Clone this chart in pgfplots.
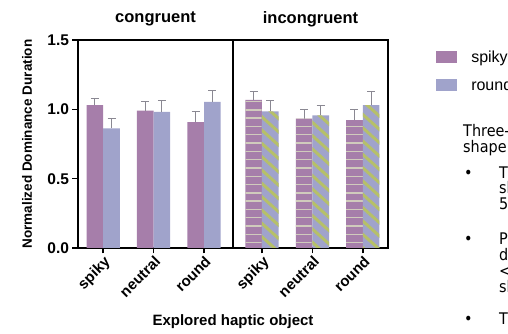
\documentclass[border=0pt]{standalone}
\usepackage{fontspec}
\setmainfont{Liberation Sans}
\newfontfamily\slidefont[FakeStretch=0.9]{DejaVu Sans}
\usepackage{pgfplots}
\pgfplotsset{compat=1.18}
\usepackage{pgfplotstable}
\usetikzlibrary{patterns.meta}
\definecolor{cpurple}{RGB}{166,126,170}
\definecolor{cblue}{RGB}{160,163,203}
\definecolor{hstripe}{RGB}{208,203,188}
\definecolor{dstripe}{RGB}{182,192,104}
\definecolor{errgray}{RGB}{138,136,146}

\pgfplotstableread{
x s serr r rerr
0 1.030 0.048 0.863 0.070
1 0.991 0.065 0.981 0.083
2 0.907 0.074 1.054 0.084
}\congruent
\pgfplotstableread{
x s serr r rerr
3.15 1.068 0.061 0.986 0.078
4.15 0.933 0.063 0.957 0.068
5.15 0.923 0.073 1.030 0.096
}\incongruent

\pgfplotsset{myerr/.style={error bars/.cd, y dir=plus, y explicit,
  error bar style={errgray, line width=1pt},
  error mark options={rotate=90, errgray, line width=1pt, mark size=4pt}}}

\begin{document}
\begin{tikzpicture}[x=1pt,y=1pt]
\begin{axis}[
  at={(78pt,86pt)}, anchor=south west,
  scale only axis, width=310pt, height=208pt,
  ybar=0pt, bar width=0.33,
  xmin=-0.5, xmax=5.65, ymin=0, ymax=1.5,
  enlargelimits=false,
  xtick={0,1,2,3.15,4.15,5.15},
  xticklabels={spiky,neutral,round,spiky,neutral,round},
  ytick={0,0.5,1,1.5},
  /pgf/number format/.cd, fixed, fixed zerofill, precision=1, assume math mode=true,
  /pgfplots/.cd,
  axis line style={line width=1.6pt, black},
  tick align=outside, xtick pos=bottom, ytick pos=left,
  major tick length=5.5pt,
  tick style={line width=1.6pt, black},
  yticklabel style={font=\bfseries\fontsize{15.5}{18}\selectfont},
  xticklabel style={font=\bfseries\fontsize{15}{18}\selectfont, rotate=45, anchor=north east, inner sep=1pt},
  ylabel={Normalized Dominance Duration},
  xlabel={Explored haptic object},
  every axis y label/.style={at={(rel axis cs:-0.1645,0.5)}, rotate=90, anchor=center, font=\bfseries\fontsize{13.5}{16}\selectfont},
  every axis x label/.style={at={(rel axis cs:0.5,-0.356)}, anchor=center, font=\bfseries\fontsize{15}{18}\selectfont},
  legend style={at={(1.155,0.96)}, anchor=north west, draw=none, fill=none,
    font=\fontsize{16}{18}\selectfont, row sep=11pt, inner sep=0pt},
  legend cell align=left,
  legend image code/.code={\fill[#1] (0pt,-6pt) rectangle (21pt,6pt); \path (33pt,0pt);},
  clip=false,
]
% congruent
\addplot[fill=cpurple, draw=none, bar shift=-0.165, myerr]
  table[x=x, y=s, y error=serr]{\congruent};
\addplot[fill=cblue, draw=none, bar shift=0.165, myerr]
  table[x=x, y=r, y error=rerr]{\congruent};
% incongruent
\addplot[fill=cpurple, draw=none, bar shift=-0.165, myerr]
  table[x=x, y=s, y error=serr]{\incongruent};
\addplot[forget plot, draw=none, bar shift=-0.165,
  pattern={Lines[angle=0, distance=8.3pt, line width=1.4pt]}, pattern color=hstripe]
  table[x=x, y=s]{\incongruent};
\addplot[fill=cblue, draw=none, bar shift=0.165, myerr]
  table[x=x, y=r, y error=rerr]{\incongruent};
\addplot[forget plot, draw=none, bar shift=0.165,
  pattern={Lines[angle=-42, distance=9.9pt, line width=3pt]}, pattern color=dstripe]
  table[x=x, y=r]{\incongruent};
\legend{spiky, round}
\draw[line width=1.6pt, black] (axis cs:2.575,0) -- (axis cs:2.575,1.5);
\end{axis}
% panel titles
\node[font=\bfseries\fontsize{16.5}{19}\selectfont] at (155.5pt,315pt) {congruent};
\node[font=\bfseries\fontsize{16.5}{19}\selectfont] at (310.5pt,315pt) {incongruent};
% slide text (cut off at the right edge)
\begin{scope}[every node/.style={anchor=base west, inner sep=0pt, font=\slidefont\fontsize{16}{19}\selectfont}]
\node at (463pt,197pt) {Three-way ANOVA};
\node at (463pt,181pt) {shape effect};
\node at (464pt,155pt) {•};
\node at (499pt,155pt) {The};
\node at (499pt,140pt) {shape};
\node at (499pt,124pt) {50};
\node at (464pt,89pt) {•};
\node at (499pt,89pt) {Post};
\node at (499pt,73pt) {differ};
\node at (499pt,57pt) {< 0.05};
\node at (499pt,41pt) {shape};
\node at (464pt,9pt) {•};
\node at (499pt,9pt) {The};
\end{scope}
\pgfresetboundingbox
\useasboundingbox (0,0) rectangle (508pt,334pt);
\end{tikzpicture}
\end{document}
